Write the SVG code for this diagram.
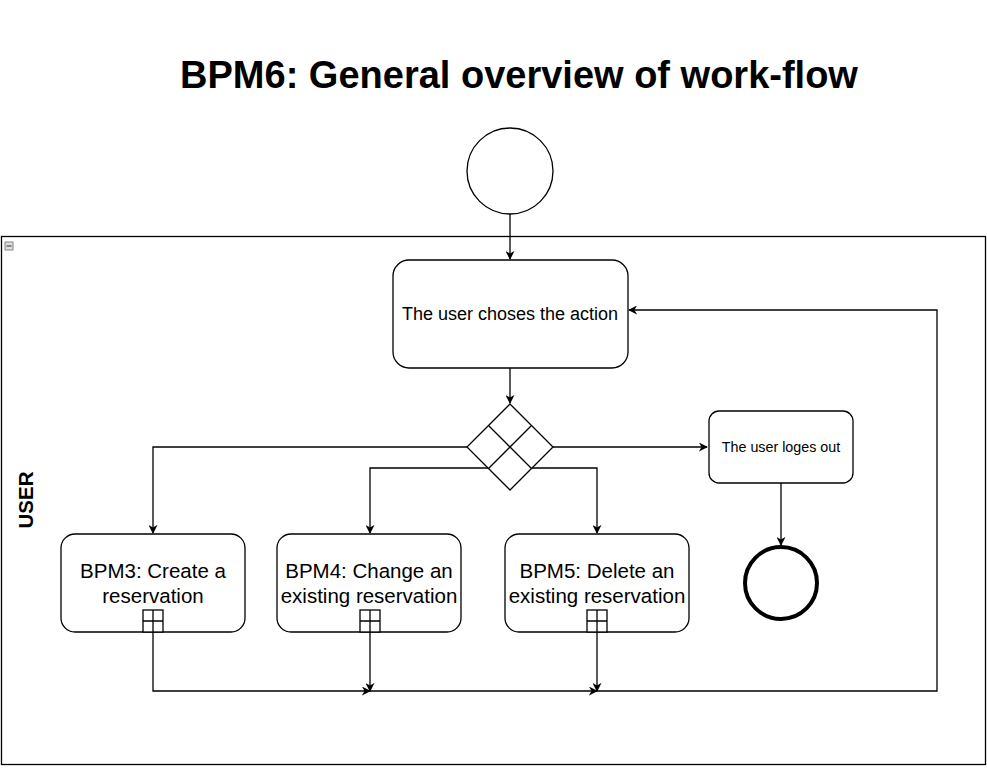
<svg xmlns="http://www.w3.org/2000/svg" width="987" height="769" viewBox="0 0 987 769">
<style>
.box{fill:#fff;stroke:#000;stroke-width:1.3}
.ln{fill:none;stroke:#000;stroke-width:1.3}
.t{font-family:"Liberation Sans",Arial,sans-serif;fill:#000;text-anchor:middle}
</style>
<defs>
<marker id="arr" viewBox="0 0 10 10" refX="9" refY="5" markerWidth="9" markerHeight="9" markerUnits="userSpaceOnUse" orient="auto">
<path d="M0,0 L10,5 L0,10 L3,5 Z" fill="#000"/>
</marker>
</defs>
<rect width="987" height="769" fill="#fff"/>
<text class="t" x="519" y="88" font-size="38" font-weight="bold">BPM6: General overview of work-flow</text>
<g id="pool">
<rect x="1.5" y="236.5" width="984" height="528" fill="none" stroke="#000" stroke-width="1.3"/>
<rect x="5" y="242" width="8" height="8" fill="#ddd" stroke="#888" stroke-width="1"/>
<line x1="6.5" y1="246" x2="11.5" y2="246" stroke="#333" stroke-width="1"/>
<text class="t" transform="translate(33,500) rotate(-90)" font-size="20.5" font-weight="bold">USER</text>
</g>
<g id="connectors">
<line class="ln" x1="510" y1="214" x2="510" y2="259" marker-end="url(#arr)"/>
<line class="ln" x1="510" y1="368" x2="510" y2="403" marker-end="url(#arr)"/>
<polyline class="ln" points="467,447 153,447 153,533" marker-end="url(#arr)"/>
<polyline class="ln" points="489,468 370,468 370,533" marker-end="url(#arr)"/>
<polyline class="ln" points="532,468 597,468 597,533" marker-end="url(#arr)"/>
<line class="ln" x1="553" y1="447" x2="707" y2="447" marker-end="url(#arr)"/>
<line class="ln" x1="781" y1="483" x2="781" y2="545" marker-end="url(#arr)"/>
<polyline class="ln" points="153,632 153,691 370,691" marker-end="url(#arr)"/>
<line class="ln" x1="370" y1="632" x2="370" y2="691" marker-end="url(#arr)"/>
<line class="ln" x1="370" y1="691" x2="597" y2="691" marker-end="url(#arr)"/>
<line class="ln" x1="597" y1="632" x2="597" y2="691" marker-end="url(#arr)"/>
<polyline class="ln" points="597,691 937,691 937,310 629,310" marker-end="url(#arr)"/>
</g>
<g id="start">
<circle class="box" cx="510" cy="171" r="43"/>
</g>
<g id="choose">
<rect class="box" x="393" y="260" width="235" height="108" rx="16"/>
<text class="t" x="510" y="320" font-size="18">The user choses the action</text>
</g>
<g id="gateway">
<path class="box" d="M510,404 L553,447 L510,490 L467,447 Z"/>
<path class="ln" d="M488.5,425.5 L531.5,468.5 M531.5,425.5 L488.5,468.5"/>
</g>
<g id="logout">
<rect class="box" x="709" y="411" width="144" height="72" rx="10"/>
<text class="t" x="781" y="452" font-size="14.3">The user loges out</text>
</g>
<g id="end">
<circle cx="781" cy="583" r="36" fill="#fff" stroke="#000" stroke-width="4"/>
</g>
<g id="bpm3">
<rect class="box" x="61" y="534" width="184" height="98" rx="14"/>
<text class="t" x="153" y="578" font-size="20.5">BPM3: Create a</text>
<text class="t" x="153" y="603" font-size="20.5">reservation</text>
<rect class="box" x="143" y="610" width="20" height="22"/>
<path class="ln" d="M143,621 H163 M153,610 V632"/>
</g>
<g id="bpm4">
<rect class="box" x="277" y="534" width="184" height="98" rx="14"/>
<text class="t" x="369" y="578" font-size="20.5">BPM4: Change an</text>
<text class="t" x="369" y="603" font-size="20.5">existing reservation</text>
<rect class="box" x="360" y="610" width="20" height="22"/>
<path class="ln" d="M360,621 H380 M370,610 V632"/>
</g>
<g id="bpm5">
<rect class="box" x="505" y="534" width="184" height="98" rx="14"/>
<text class="t" x="597" y="578" font-size="20.5">BPM5: Delete an</text>
<text class="t" x="597" y="603" font-size="20.5">existing reservation</text>
<rect class="box" x="587" y="610" width="20" height="22"/>
<path class="ln" d="M587,621 H607 M597,610 V632"/>
</g>
</svg>
